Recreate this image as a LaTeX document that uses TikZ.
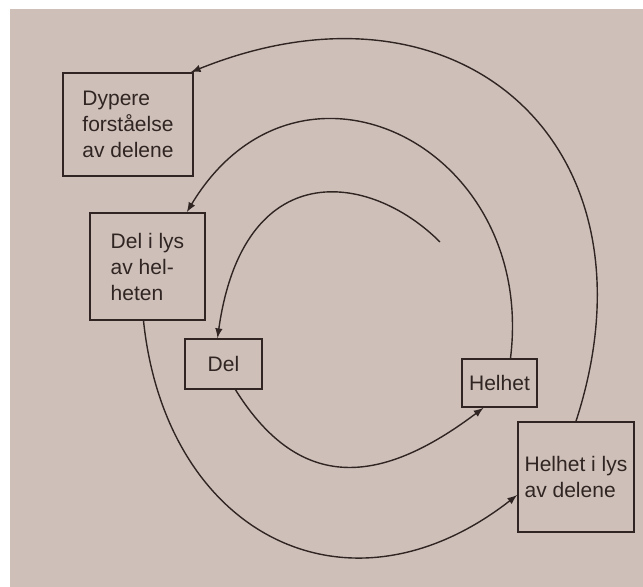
\documentclass[tikz,border=0pt]{standalone}
\usepackage{fontspec}
\setmainfont{Liberation Sans}
\definecolor{paper}{RGB}{206,192,185}
\definecolor{ink}{RGB}{48,37,34}
\begin{document}
\begin{tikzpicture}[x=.5pt,y=-.5pt,
        box/.style={draw=ink,line width=.8pt,align=left,text=ink,inner sep=0pt,font=\fontsize{10.5}{13}\selectfont},
        arc/.style={draw=ink,line width=.7pt,-latex}]
        \useasboundingbox (0,0) rectangle (643,587);
        \fill[white] (0,0) rectangle (643,587);
        \fill[paper] (10,9) rectangle (643,587);
        
        \node[box,minimum width=65pt,minimum height=51.5pt] (dypere) at (128,124.5) {Dypere\\forståelse\\av delene};
        \node[box,minimum width=57.5pt,minimum height=53.5pt] (dellys) at (147.5,266.5) {Del i lys\\av hel-\\heten};
        \node[box,minimum width=38.5pt,minimum height=25pt] (del) at (223.5,364) {Del};
        \node[box,minimum width=37.5pt,minimum height=24pt] (helhet) at (499.5,383) {Helhet};
        \node[box,minimum width=58pt,minimum height=55pt] (helhetlys) at (576,477) {Helhet i lys\\av delene};
        
        \coordinate (spiralstart) at (440,242);
        
        % the spiral, from the inside out
        \draw[arc] (spiralstart) to[out=135,in=82,out distance=50pt,in distance=92.5pt] ([xshift=-3pt]del.north);
        \draw[arc] ([xshift=6pt]del.south) to[out=-58,in=217,distance=62.5pt] ([xshift=-8pt]helhet.south);
        \draw[arc] ([xshift=5.5pt]helhet.north) to[out=83,in=59,distance=107.5pt] ([xshift=-9.5pt]dellys.north east);
        \draw[arc] ([xshift=-2pt]dellys.south) to[out=-84,in=218,distance=107.5pt] ([yshift=-9pt]helhetlys.west);
        \draw[arc] (helhetlys.north) to[out=72,in=22,distance=145pt] ([xshift=-1.5pt]dypere.north east);
\end{tikzpicture}
\end{document}
